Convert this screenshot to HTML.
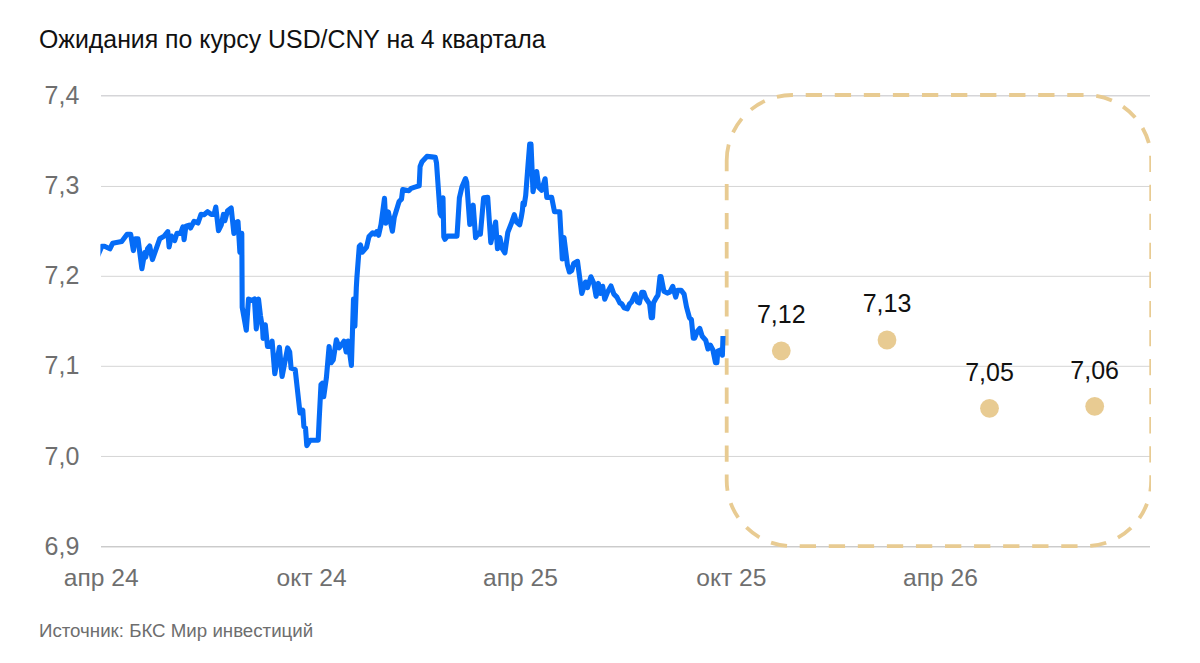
<!DOCTYPE html>
<html lang="ru"><head><meta charset="utf-8"><title>USD/CNY</title>
<style>
html,body{margin:0;padding:0;background:#fff;}
body{width:1200px;height:663px;overflow:hidden;font-family:"Liberation Sans",sans-serif;}
svg{display:block}
text{font-family:"Liberation Sans",sans-serif;}
</style></head><body>
<svg width="1200" height="663" viewBox="0 0 1200 663">
<rect width="1200" height="663" fill="#fff"/>
<defs><clipPath id="plot"><rect x="95" y="90" width="1056" height="459"/></clipPath><clipPath id="lc"><rect x="100.4" y="90" width="1050" height="459"/></clipPath></defs>
<text x="39" y="47.9" font-size="24.85" fill="#111">Ожидания по курсу USD/CNY на 4 квартала</text>
<rect x="101" y="95" width="1049" height="1.5" fill="#d5d5d8"/>
<rect x="101" y="185.95" width="1049" height="1" fill="#d5d5d5"/>
<rect x="101" y="275.80" width="1049" height="1" fill="#d5d5d5"/>
<rect x="101" y="365.80" width="1049" height="1" fill="#d5d5d5"/>
<rect x="101" y="455.95" width="1049" height="1" fill="#d5d5d5"/>
<rect x="101" y="546" width="1049" height="1.45" fill="#cbcbcb"/>
<text x="44.6" y="104.0" font-size="25" fill="#6f6f6f">7,4</text>
<text x="44.6" y="194.2" font-size="25" fill="#6f6f6f">7,3</text>
<text x="44.6" y="284.4" font-size="25" fill="#6f6f6f">7,2</text>
<text x="44.6" y="374.4" font-size="25" fill="#6f6f6f">7,1</text>
<text x="44.6" y="464.5" font-size="25" fill="#6f6f6f">7,0</text>
<text x="44.6" y="555.0" font-size="25" fill="#6f6f6f">6,9</text>
<text x="101.2" y="585.7" font-size="24.6" fill="#6f6f6f" text-anchor="middle">апр 24</text>
<text x="311.6" y="585.7" font-size="24.6" fill="#6f6f6f" text-anchor="middle">окт 24</text>
<text x="520.5" y="585.7" font-size="24.6" fill="#6f6f6f" text-anchor="middle">апр 25</text>
<text x="731.4" y="585.7" font-size="24.6" fill="#6f6f6f" text-anchor="middle">окт 25</text>
<text x="940.5" y="585.7" font-size="24.6" fill="#6f6f6f" text-anchor="middle">апр 26</text>
<g clip-path="url(#plot)"><path d="M726.7,160.5 A65.5,65.5 0 0 1 792.2,95.0 L1085.7,95.0 A65.5,65.5 0 0 1 1151.2,160.5 L1151.2,480.6 A65.5,65.5 0 0 1 1085.7,546.1 L792.2,546.1 A65.5,65.5 0 0 1 726.7,480.6 Z" fill="none" stroke="#e8cb92" stroke-width="3.8" stroke-dasharray="16.3 12.76"/></g>
<polyline clip-path="url(#lc)" points="97.0,257.5 101.9,246.3 104.5,246.2 109.9,248.8 112.6,243.3 121.7,241.5 127.1,234.3 130.7,234.3 133.4,250.6 135.2,238.8 138.0,238.8 141.9,268.7 144.7,252.6 145.7,257.2 147.6,248.6 149.7,246.0 152.4,259.6 159.7,238.8 164.2,236.1 167.8,231.6 169.1,247.0 171.4,236.0 174.7,240.6 176.9,233.4 180.5,233.4 182.9,227.0 184.1,239.7 185.9,226.2 189.2,225.2 190.5,228.0 194.1,221.3 198.0,223.0 201.0,214.4 204.0,214.7 207.6,211.7 211.3,214.4 214.0,214.4 215.8,207.1 218.5,230.7 221.2,225.2 223.4,214.4 224.8,220.7 227.6,210.8 231.2,208.0 233.9,233.4 236.2,222.5 238.0,221.6 239.9,252.4 241.8,233.4 242.2,307.2 246.3,330.2 248.5,299.0 251.7,300.4 254.4,299.0 256.3,328.9 258.5,299.0 260.4,315.3 262.6,328.9 263.1,338.4 265.3,324.8 267.5,346.5 270.2,346.5 272.1,341.1 274.8,373.7 279.4,347.3 282.1,376.4 287.6,347.9 289.7,352.0 291.1,368.2 295.2,369.6 300.0,413.0 302.8,410.3 303.9,426.6 305.5,428.0 306.8,445.6 310.1,440.2 318.2,440.2 319.1,421.0 321.0,384.5 322.3,383.2 323.7,396.8 326.4,377.7 329.1,346.5 331.0,362.8 333.2,360.0 336.4,339.7 339.2,347.9 344.0,341.1 346.2,352.0 348.1,341.1 351.4,365.5 353.5,299.0 354.9,326.2 356.3,288.0 356.9,277.5 359.3,246.2 360.5,245.0 362.2,252.2 366.5,247.4 369.0,236.5 372.6,232.9 375.0,234.1 376.7,231.7 378.6,235.3 381.0,224.5 384.5,198.3 385.8,223.3 388.3,211.9 392.4,231.2 394.3,217.2 399.1,201.5 401.5,199.1 402.7,189.5 408.8,190.7 411.2,188.3 414.8,187.1 419.2,185.8 420.1,166.5 422.0,161.7 426.9,156.4 431.7,156.9 435.3,157.4 436.5,162.9 440.1,213.6 441.4,216.0 443.0,197.9 443.8,236.8 445.0,239.3 447.4,236.1 457.0,236.1 459.4,197.9 461.9,187.1 465.5,178.6 466.7,182.2 469.8,224.5 473.2,205.2 475.6,237.7 478.8,232.9 480.4,234.1 483.6,197.9 487.7,197.4 490.8,242.6 495.6,222.0 497.5,248.8 499.9,237.6 502.1,248.3 504.9,252.8 507.8,232.4 511.4,223.2 514.3,214.7 516.3,221.9 519.7,224.8 521.1,218.1 522.4,210.5 523.0,203.0 524.2,205.0 525.7,195.4 528.0,165.2 529.7,144.0 531.0,144.0 533.0,191.7 536.7,171.6 538.8,187.4 541.6,190.2 545.1,178.8 546.8,197.4 551.7,197.4 554.5,211.7 559.7,211.7 562.3,259.0 564.0,237.5 567.4,264.8 569.4,272.0 571.7,270.5 573.7,263.4 577.5,261.3 581.8,293.5 585.5,282.0 587.5,287.7 590.9,276.8 593.8,283.4 596.1,296.3 598.4,283.4 600.4,293.5 602.7,286.3 604.7,299.2 607.6,292.0 611.0,286.0 613.9,294.1 616.9,297.1 619.8,302.9 621.8,303.9 624.1,307.8 627.3,308.8 629.6,303.9 631.6,302.0 635.1,294.1 637.5,302.0 639.4,302.9 641.8,292.2 643.7,292.2 645.7,298.0 649.6,303.9 651.2,317.6 652.5,317.6 653.5,302.9 656.1,298.0 658.0,295.1 660.0,276.5 661.0,276.5 663.9,291.2 667.3,293.1 669.8,292.2 672.7,286.3 675.7,297.1 677.6,290.2 681.0,290.2 684.1,294.1 686.5,306.9 689.4,317.6 691.4,319.6 693.3,338.2 694.7,338.2 697.3,331.4 699.8,328.4 702.2,336.3 705.7,340.2 708.0,349.0 710.4,345.1 712.9,350.0 715.5,362.7 716.9,362.7 717.8,351.0 720.2,350.0 722.4,355.2 723.0,336.0" fill="none" stroke="#056cf7" stroke-width="5.1" stroke-linejoin="round" stroke-linecap="butt"/>
<circle cx="781.3" cy="350.8" r="9.4" fill="#e8cb92"/>
<text x="781.3" y="323.2" font-size="25" fill="#111" text-anchor="middle">7,12</text>
<circle cx="887" cy="340" r="9.4" fill="#e8cb92"/>
<text x="887" y="312.4" font-size="25" fill="#111" text-anchor="middle">7,13</text>
<circle cx="989.5" cy="408.3" r="9.4" fill="#e8cb92"/>
<text x="989.5" y="380.7" font-size="25" fill="#111" text-anchor="middle">7,05</text>
<circle cx="1094.7" cy="406.3" r="9.4" fill="#e8cb92"/>
<text x="1094.7" y="378.7" font-size="25" fill="#111" text-anchor="middle">7,06</text>
<text x="39" y="637" font-size="18.7" fill="#6e6e6e">Источник: БКС Мир инвестиций</text>
</svg></body></html>
